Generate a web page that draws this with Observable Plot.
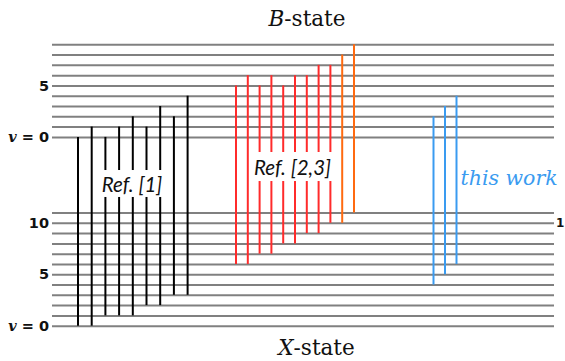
<!DOCTYPE html>
<html>
<head>
<meta charset="utf-8">
<script src="https://cdn.jsdelivr.net/npm/d3@7"></script>
<script src="https://cdn.jsdelivr.net/npm/@observablehq/plot@0.6"></script>
<style>
html, body { margin: 0; padding: 0; background: #fff; overflow: hidden; }
#chart svg { display: block; }
</style>
</head>
<body>
<div id="chart"></div>
<script>
// ---------------- data ----------------
const bStateLevels = [0, 1, 2, 3, 4, 5, 6, 7, 8, 9];           // B-state v'
const xStateLevels = [0, 1, 2, 3, 4, 5, 6, 7, 8, 9, 10, 11];   // X-state v''

const ref1Upper = [0, 1, 0, 1, 2, 1, 3, 2, 4];
const ref1Lower = [0, 0, 1, 1, 1, 2, 2, 3, 3];

const ref23Upper = [5, 6, 5, 6, 5, 6, 6, 7, 7, 8, 9];
const ref23Lower = [6, 6, 7, 7, 8, 8, 9, 9, 10, 10, 11];
const ref23Series = ["red", "red", "red", "red", "red", "red", "red", "red", "red", "orange", "orange"];

const thisWorkUpper = [2, 3, 4];
const thisWorkLower = [4, 5, 6];

const bTickLevels = [5, 0];
const bTickLabels = ["5", "v = 0"];
const xTickLevels = [10, 5, 0];
const xTickLabels = ["10", "5", "v = 0"];
const rightTickLevels = [10];
const rightTickLabels = ["1"];

const groupLabels = ["Ref. [1]", "Ref. [2,3]", "this work"];
const stateTitles = ["B-state", "X-state"];

// ---------------- layout ----------------
const W = 565, H = 361;
const bOffset = 18.35;            // schematic gap between X v=0 and B v=0 (level units)
const levelX1 = 52, levelX2 = 554;
const colors = {black: "#000000", red: "#ff2b2b", orange: "#ff6a10", blue: "#3a9bf0"};

const groups = [
  {upper: ref1Upper, lower: ref1Lower, x0: 77.5, step: 13.7, series: ref1Upper.map(() => "black")},
  {upper: ref23Upper, lower: ref23Lower, x0: 235.5, step: 11.8, series: ref23Series},
  {upper: thisWorkUpper, lower: thisWorkLower, x0: 433, step: 11.5, series: thisWorkUpper.map(() => "blue")}
];

const transitions = groups.flatMap(g => g.upper.map((u, i) => ({
  x: g.x0 + i * g.step,
  y1: bOffset + u,
  y2: g.lower[i],
  color: colors[g.series[i]]
})));

const levels = [
  ...bStateLevels.map(v => ({y: bOffset + v})),
  ...xStateLevels.map(v => ({y: v}))
];

const leftTicks = [
  ...bTickLevels.map((v, i) => ({y: bOffset + v, label: bTickLabels[i]})),
  ...xTickLevels.map((v, i) => ({y: v, label: xTickLabels[i]}))
];
const rightTicks = rightTickLevels.map((v, i) => ({y: v, label: rightTickLabels[i]}));

// label boxes (white background behind group labels)
const labelBoxes = [
  {x1: 95, x2: 170, y1: 12.51, y2: 15.13},
  {x1: 251, x2: 337, y1: 14.06, y2: 16.88}
];
const refLabels = [
  {x: 131.5, y: 13.64, label: groupLabels[0]},
  {x: 292, y: 15.37, label: groupLabels[1]}
];
const workLabel = [{x: 460, y: 14.35, label: groupLabels[2]}];
const titles = [
  {x: 306.5, y: bOffset + 9 + 2.5, label: stateTitles[0]},
  {x: 316, y: -2.17, label: stateTitles[1]}
];

const k = 10.29; // px per level unit
const yMax = 325.7 / k, yMin = -(H - 325.7) / k;

const chart = Plot.plot({
  width: W,
  height: H,
  margin: 0,
  style: {background: "#fff"},
  x: {domain: [0, W], range: [0, W], axis: null},
  y: {domain: [yMin, yMax], range: [H, 0], axis: null},
  marks: [
    Plot.ruleY(levels, {y: "y", x1: levelX1, x2: levelX2, stroke: "#808080", strokeWidth: 2}),
    Plot.ruleX(transitions, {x: "x", y1: "y1", y2: "y2", stroke: "color", strokeWidth: 2}),
    Plot.rect(labelBoxes, {x1: "x1", x2: "x2", y1: "y1", y2: "y2", fill: "#fff"}),
    Plot.text(refLabels, {x: "x", y: "y", text: "label", fontFamily: "Lato", fontStyle: "italic", fontSize: 20.5, fill: "#111"}),
    Plot.text(workLabel, {x: "x", y: "y", text: "label", textAnchor: "start", fontFamily: "DejaVu Serif", fontStyle: "italic", fontSize: 20.5, fill: colors.blue}),
    Plot.text(leftTicks, {x: 48.5, y: "y", text: "label", textAnchor: "end", fontFamily: "DejaVu Sans", fontWeight: "bold", fontSize: 14.5, fill: "#111"}),
    Plot.text(rightTicks, {x: 555.5, y: "y", text: "label", textAnchor: "start", fontFamily: "DejaVu Sans", fontWeight: "bold", fontSize: 12, fill: "#111"}),
    Plot.text(titles, {x: "x", y: "y", text: "label", fontFamily: "DejaVu Serif", fontSize: 21.5, fill: "#111"})
  ]
});

// rich text: italic symbols
d3.select(chart).selectAll("text").each(function () {
  const t = this.textContent;
  const sel = d3.select(this);
  if (t === "v = 0") {
    sel.text("");
    sel.append("tspan").attr("font-family", "DejaVu Serif").attr("font-style", "italic").attr("font-weight", "bold").text("v");
    sel.append("tspan").text(" = 0");
  } else if (t === "B-state" || t === "X-state") {
    sel.text("");
    sel.append("tspan").attr("font-style", "italic").text(t[0]);
    sel.append("tspan").text(t.slice(1));
  }
});

document.getElementById("chart").appendChild(chart);
</script>
</body>
</html>
